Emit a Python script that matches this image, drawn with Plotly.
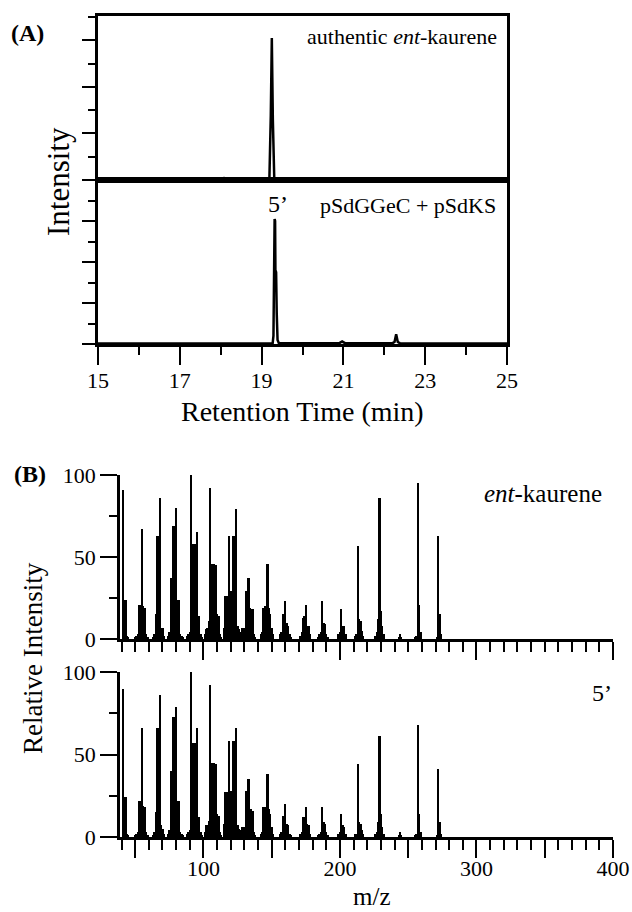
import plotly.graph_objects as go

W, H = 632, 912
FONT = "Liberation Serif, Times New Roman, Times, serif"

# ---------------- (A) GC traces ----------------
rt_authentic = [15.0, 18.0, 18.05, 18.08, 18.11, 18.35, 18.40, 18.45, 19.19, 19.225, 19.25, 19.275, 19.31, 25.0]
int_authentic = [0.02, 0.02, 0.04, 0.08, 0.03, 0.02, 0.05, 0.02, 0.02, 2.8, 6.1, 2.6, 0.03, 0.02]

rt_product = [15.0, 19.27, 19.29, 19.305, 19.318, 19.33, 19.338, 19.355, 19.37, 19.39, 19.42,
              20.9, 20.97, 21.04, 22.2, 22.25, 22.29, 22.33, 22.38, 25.0]
int_product = [0.03, 0.03, 0.4, 3.0, 6.1, 6.0, 3.6, 3.5, 1.5, 0.2, 0.05,
               0.04, 0.12, 0.04, 0.04, 0.1, 0.47, 0.1, 0.04, 0.03]

# ---------------- (B) mass spectra ----------------
mz = [41, 42, 43, 44, 45,
      50, 51, 52, 53, 54, 55, 56, 57, 58, 59,
      63, 64, 65, 66, 67, 68, 69, 70, 71,
      74, 75, 76, 77, 78, 79, 80, 81, 82, 83, 84, 85,
      88, 89, 90, 91, 92, 93, 94, 95, 96, 97, 98, 99,
      101, 102, 103, 104, 105, 106, 107, 108, 109, 110, 111, 112, 113,
      115, 116, 117, 118, 119, 120, 121, 122, 123, 124, 125, 126, 127, 128, 129, 130,
      131, 132, 133, 134, 135, 136, 137, 138,
      142, 143, 144, 145, 146, 147, 148, 149, 150, 151,
      156, 157, 158, 159, 160, 161, 162, 163, 164,
      171, 172, 173, 174, 175, 176, 177, 178,
      184, 185, 186, 187, 188, 189, 190, 191,
      199, 200, 201, 202, 203, 204,
      211, 212, 213, 214, 215, 216, 217,
      226, 227, 228, 229, 230, 231, 232,
      243, 244, 245,
      255, 256, 257, 258, 259,
      271, 272, 273, 274]

rel_int_kaurene = [91, 24, 24, 2, 1,
                   1, 2, 3, 21, 21, 67, 20, 19, 3, 1,
                   1, 3, 15, 63, 63, 86, 7, 7, 2,
                   2, 4, 37, 37, 69, 69, 80, 24, 24, 3, 2, 1,
                   2, 3, 4, 100, 58, 58, 58, 65, 14, 14, 3, 1,
                   3, 6, 7, 11, 92, 46, 46, 46, 45, 15, 14, 3, 1,
                   7, 26, 26, 26, 63, 29, 29, 63, 63, 79, 8, 6, 4, 7, 7, 7,
                   29, 29, 37, 19, 18, 18, 3, 1,
                   3, 4, 19, 20, 20, 46, 19, 15, 7, 3,
                   3, 4, 15, 15, 23, 10, 8, 3, 1,
                   2, 4, 13, 14, 21, 8, 8, 3,
                   1, 3, 4, 23, 10, 9, 3, 1,
                   3, 4, 18, 8, 8, 3,
                   2, 3, 57, 12, 11, 5, 2,
                   2, 4, 12, 86, 17, 8, 3,
                   1, 3, 1,
                   1, 2, 95, 21, 4,
                   1, 63, 15, 3]

rel_int_5p = [90, 24, 24, 2, 1,
              1, 2, 3, 22, 22, 66, 19, 18, 3, 1,
              1, 3, 15, 66, 66, 86, 7, 5, 2,
              2, 4, 40, 40, 73, 73, 79, 22, 22, 3, 2, 1,
              2, 3, 4, 100, 57, 57, 57, 66, 12, 12, 3, 1,
              3, 7, 7, 10, 92, 45, 45, 45, 44, 14, 13, 3, 1,
              8, 27, 27, 27, 58, 28, 28, 58, 58, 66, 7, 5, 4, 6, 6, 6,
              28, 28, 35, 17, 17, 16, 3, 1,
              2, 3, 18, 18, 18, 38, 17, 14, 6, 2,
              2, 3, 13, 13, 20, 8, 7, 2, 1,
              2, 3, 12, 12, 18, 8, 7, 2,
              1, 2, 3, 18, 9, 8, 3, 1,
              2, 3, 14, 7, 6, 2,
              2, 2, 44, 9, 8, 4, 2,
              2, 3, 9, 61, 14, 6, 2,
              1, 3, 1,
              1, 2, 68, 14, 3,
              1, 41, 9, 2]

rt_ticks = [15, 17, 19, 21, 23, 25]
mz_ticks = [50, 100, 150, 200, 250, 300, 350, 400]
mz_ticktext = ["", "100", "", "200", "", "300", "", "400"]


def xd(a, b):
    return [a / W, b / W]


def yd(top, bottom):
    return [1 - bottom / H, 1 - top / H]


fig = go.Figure()
fig.add_trace(go.Scatter(x=rt_authentic, y=int_authentic, mode="lines",
                         line=dict(color="black", width=2.5), xaxis="x", yaxis="y"))
fig.add_trace(go.Scatter(x=rt_product, y=int_product, mode="lines",
                         line=dict(color="black", width=2.5), xaxis="x2", yaxis="y2"))
fig.add_trace(go.Bar(x=mz, y=rel_int_kaurene, width=1.6, marker=dict(color="black", line=dict(width=0)),
                     xaxis="x3", yaxis="y3"))
fig.add_trace(go.Bar(x=mz, y=rel_int_5p, width=1.6, marker=dict(color="black", line=dict(width=0)),
                     xaxis="x4", yaxis="y4"))

tickfont = dict(family=FONT, size=22, color="black")
A_common = dict(showgrid=False, zeroline=False, showline=True, linecolor="black", linewidth=3,
                mirror=True, automargin=False)

fig.update_layout(
    template="none",
    width=W, height=H, margin=dict(l=0, r=0, t=0, b=0, pad=0), autosize=False,
    paper_bgcolor="white", plot_bgcolor="rgba(0,0,0,0)", showlegend=False,
    font=dict(family=FONT, color="black", size=22),
    xaxis=dict(domain=xd(98, 507), anchor="y", range=[15, 25], showticklabels=False, ticks="", **A_common),
    yaxis=dict(domain=yd(15.5, 180), anchor="x", range=[0, 7.07], showticklabels=False,
               tickvals=[0, 2, 4, 6], ticks="outside", ticklen=13, tickwidth=2, tickcolor="black",
               minor=dict(tickvals=[1, 3, 5, 7], ticks="outside", ticklen=7, tickwidth=2, tickcolor="black"),
               **A_common),
    xaxis2=dict(domain=xd(98, 507), anchor="y2", range=[15, 25], tickvals=rt_ticks,
                ticks="outside", ticklen=18, tickwidth=2, tickcolor="black", tickfont=tickfont,
                ticklabelstandoff=-3,
                minor=dict(dtick=1, tick0=0, ticks="outside", ticklen=8, tickwidth=2, tickcolor="black"),
                **A_common),
    yaxis2=dict(domain=yd(180, 344), anchor="x2", range=[0, 8], showticklabels=False,
                tickvals=[0, 2, 4, 6, 8], ticks="outside", ticklen=13, tickwidth=2, tickcolor="black",
                minor=dict(tickvals=[1, 3, 5, 7], ticks="outside", ticklen=7, tickwidth=2, tickcolor="black"),
                **A_common),
)

B_x = dict(domain=xd(120, 613), range=[38.9, 400], showgrid=False, zeroline=False, automargin=False,
           showline=True, linecolor="black", linewidth=2.5, tickvals=mz_ticks, ticktext=mz_ticktext,
           ticks="outside", ticklen=18, tickwidth=1.5, tickcolor="black", tickfont=tickfont,
           minor=dict(dtick=10, tick0=0, ticks="outside", ticklen=10, tickwidth=1.5, tickcolor="black"))
B_y = dict(range=[0, 100], showgrid=False, zeroline=False, showline=True, linecolor="black",
           automargin=False,
           linewidth=2.5, tickvals=[0, 50, 100], ticks="outside", ticklen=17, tickwidth=1.5,
           tickcolor="black", tickfont=tickfont,
           minor=dict(tickvals=[25, 75], ticks="outside", ticklen=8, tickwidth=1.5, tickcolor="black"))

fig.update_layout(
    xaxis3=dict(anchor="y3", showticklabels=False, **B_x),
    yaxis3=dict(domain=yd(475, 639), anchor="x3", **B_y),
    xaxis4=dict(anchor="y4", ticklabelstandoff=-8, **B_x),
    yaxis4=dict(domain=yd(672, 837), anchor="x4", **B_y),
    bargap=0,
)


def ann(text, x, y, xanchor="center", yanchor="middle", size=22, angle=0):
    fig.add_annotation(text=text, x=x / W, y=1 - y / H, xref="paper", yref="paper",
                       xanchor=xanchor, yanchor=yanchor, showarrow=False, textangle=angle,
                       font=dict(family=FONT, size=size, color="black"))


ann("<b>(A)</b>", 9, 33, xanchor="left", size=24)
ann("<b>(B)</b>", 12, 474, xanchor="left", size=24)
ann("Intensity", 58, 182, angle=-90, size=31)
ann("Retention Time (min)", 302, 412, size=28)
ann("Relative Intensity", 33, 658, angle=-90, size=27)
ann("m/z", 372, 896, size=25)
ann("authentic <i>ent</i>-kaurene", 499, 36, xanchor="right", size=22)
ann("5’", 278, 204, size=24)
ann("pSdGGeC + pSdKS", 498, 206, xanchor="right", size=22)
ann("<i>ent</i>-kaurene", 604, 493, xanchor="right", size=25)
ann("5’", 614, 693, xanchor="right", size=24)

fig.write_html(
    "out.html",
    config={"displayModeBar": False},
    post_script="document.documentElement.style.margin='0';document.body.style.margin='0';"
                "document.body.style.padding='0';document.body.style.overflow='hidden';",
)
